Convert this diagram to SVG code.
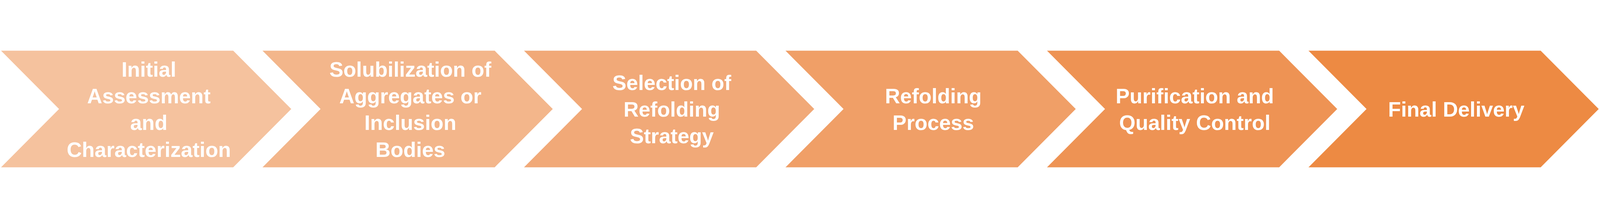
<svg xmlns="http://www.w3.org/2000/svg" width="6257" height="557" viewBox="0 0 6257 557" style="max-width:100vw;max-height:100vh">
<style>
.lbl{font-family:"Liberation Sans",Arial,sans-serif;font-weight:bold;font-size:82px;fill:#FFFFFF;text-anchor:middle}
</style>
<rect width="6257" height="557" fill="#FFFFFF"/>
<g id="step1">
<polygon points="4,51 912,51 1139,278.5 912,506 4,506 231,278.5" fill="#F5C29E"/>
<text class="lbl"><tspan x="582" y="152">Initial</tspan><tspan x="582" y="256.3">Assessment</tspan><tspan x="582" y="360.7">and</tspan><tspan x="582" y="465.1">Characterization</tspan></text>
</g>
<g id="step2">
<polygon points="1026.6,51 1934.6,51 2161.6,278.5 1934.6,506 1026.6,506 1253.6,278.5" fill="#F3B68B"/>
<text class="lbl"><tspan x="1604.6" y="152">Solubilization of</tspan><tspan x="1604.6" y="256.3">Aggregates or</tspan><tspan x="1604.6" y="360.7">Inclusion</tspan><tspan x="1604.6" y="465.1">Bodies</tspan></text>
</g>
<g id="step3">
<polygon points="2049.2,51 2957.2,51 3184.2,278.5 2957.2,506 2049.2,506 2276.2,278.5" fill="#F1A978"/>
<text class="lbl"><tspan x="2627.2" y="204.1">Selection of</tspan><tspan x="2627.2" y="308.5">Refolding</tspan><tspan x="2627.2" y="412.9">Strategy</tspan></text>
</g>
<g id="step4">
<polygon points="3071.8,51 3979.8,51 4206.8,278.5 3979.8,506 3071.8,506 3298.8,278.5" fill="#F09F67"/>
<text class="lbl"><tspan x="3649.8" y="256.3">Refolding</tspan><tspan x="3649.8" y="360.7">Process</tspan></text>
</g>
<g id="step5">
<polygon points="4094.4,51 5002.4,51 5229.4,278.5 5002.4,506 4094.4,506 4321.4,278.5" fill="#EE9354"/>
<text class="lbl"><tspan x="4672.4" y="256.3">Purification and</tspan><tspan x="4672.4" y="360.7">Quality Control</tspan></text>
</g>
<g id="step6">
<polygon points="5117,51 6025,51 6252,278.5 6025,506 5117,506 5344,278.5" fill="#ED8A43"/>
<text class="lbl"><tspan x="5695" y="308.5">Final Delivery</tspan></text>
</g>
</svg>
